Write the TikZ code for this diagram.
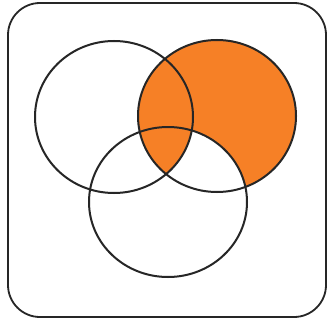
\documentclass[tikz,border=0pt]{standalone}
\usepackage{tikz}

\definecolor{vennorange}{RGB}{246,128,38}

\begin{document}
\begin{tikzpicture}[
        x=1pt, y=-1pt,
        frame/.style={draw=black!85, line width=1.8pt, rounded corners=32pt, fill=white},
        setline/.style={draw=black!85, line width=2pt}
      ]
      \useasboundingbox (0,0) rectangle (331,321);
      \coordinate (ca) at (114,117);
      \coordinate (cb) at (217,116);
      \coordinate (cc) at (168,202);

      \path[frame] (8,3) rectangle (326,317);

      % shaded region: B without the part of C outside A
      \begin{scope}
        \clip (cb) ellipse [x radius=79, y radius=76];
        \fill[vennorange] (cb) ellipse [x radius=79, y radius=76];
        \begin{scope}
          \clip (cc) ellipse [x radius=79, y radius=75];
          \fill[white] (cc) ellipse [x radius=79, y radius=75];
          \fill[vennorange] (ca) ellipse [x radius=79, y radius=76];
        \end{scope}
      \end{scope}

      \path[setline] (ca) ellipse [x radius=79, y radius=76];
      \path[setline] (cb) ellipse [x radius=79, y radius=76];
      \path[setline] (cc) ellipse [x radius=79, y radius=75];
    \end{tikzpicture}
\end{document}
